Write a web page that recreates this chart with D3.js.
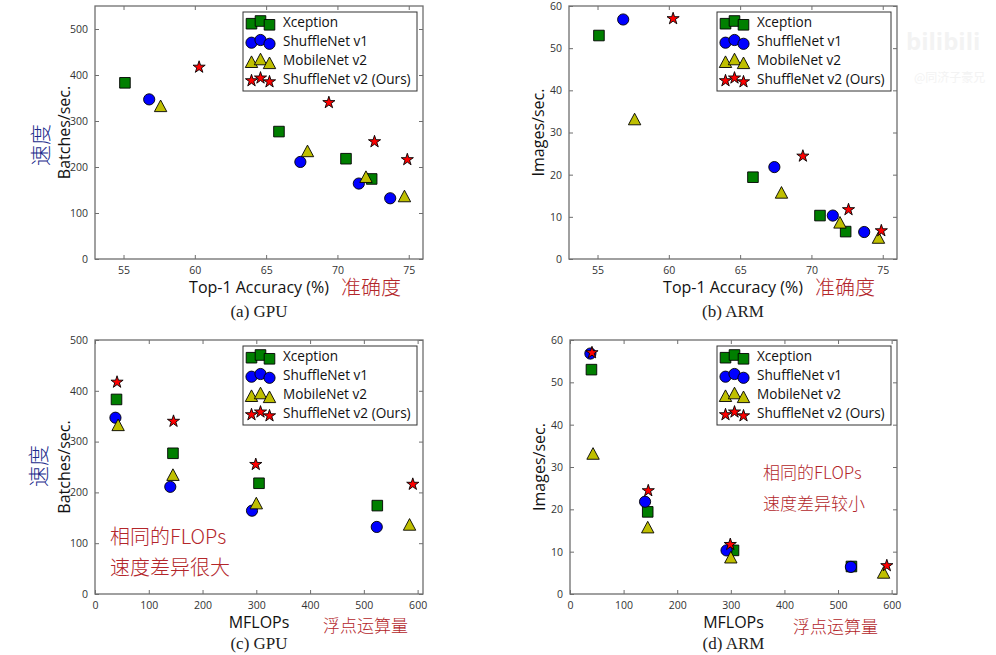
<!DOCTYPE html>
<html>
<head>
<meta charset="utf-8">
<script src="https://cdn.jsdelivr.net/npm/d3@7"></script>
<style>
  html, body { margin: 0; padding: 0; background: #fff; }
  svg { display: block; }
</style>
</head>
<body>
<svg id="chart" width="996" height="655"></svg>
<script>
// ---------------- DATA ----------------
const models = ["Xception", "ShuffleNet v1", "MobileNet v2", "ShuffleNet v2 (Ours)"];

// Top-1 accuracy (%)
const xceptionAcc  = [55.1, 65.9, 70.6, 72.4];
const shuffleV1Acc = [56.8, 67.4, 71.5, 73.7];
const mobileV2Acc  = [57.6, 67.9, 72.0, 74.7];
const shuffleV2Acc = [60.3, 69.4, 72.6, 74.9];

// MFLOPs
const xceptionFlops  = [40, 145, 305, 525];
const shuffleV1Flops = [38, 140, 292, 524];
const mobileV2Flops  = [43, 145, 300, 585];
const shuffleV2Flops = [41, 146, 299, 591];

// GPU speed (batches/sec.)
const xceptionGpu  = [383, 277, 218, 174];
const shuffleV1Gpu = [347, 211, 164, 132];
const mobileV2Gpu  = [333, 235, 179, 137];
const shuffleV2Gpu = [417, 340, 255, 216];

// ARM speed (images/sec.)
const xceptionArm  = [53.0, 19.4, 10.3, 6.5];
const shuffleV1Arm = [56.8, 21.8, 10.3, 6.4];
const mobileV2Arm  = [33.2, 15.8, 8.7, 5.1];
const shuffleV2Arm = [57.0, 24.4, 11.7, 6.7];

// axis ticks
const accTicks  = [55, 60, 65, 70, 75];
const flopTicks = [0, 100, 200, 300, 400, 500, 600];
const gpuTicks  = [0, 100, 200, 300, 400, 500];
const armTicks  = [0, 10, 20, 30, 40, 50, 60];

// ---------------- STYLE ----------------
const colors = ["#007f00", "#0000ff", "#bfbf00", "#ff0000"];
const shapes = ["square", "circle", "triangle", "star"];
const sansFont = "'Open Sans', 'DejaVu Sans', sans-serif";
const cjkFont = "'Noto Sans CJK SC', sans-serif";

const svg = d3.select("#chart");

function markerPath(shape) {
  const p = d3.path();
  if (shape === "square") {
    const s = 5.3; p.rect(-s, -s, 2 * s, 2 * s);
  } else if (shape === "circle") {
    p.arc(0, 0, 5.6, 0, 2 * Math.PI); p.closePath();
  } else if (shape === "triangle") {
    const w = 6.2, h = 5.8;
    p.moveTo(0, -h); p.lineTo(w, h); p.lineTo(-w, h); p.closePath();
  } else {
    return d3.symbol().type(d3.symbolStar).size(46)();
  }
  return p.toString();
}

function drawPanel(cfg) {
  const x = d3.scaleLinear().domain(cfg.xDomain).range([cfg.left, cfg.right]);
  const y = d3.scaleLinear().domain(cfg.yDomain).range([cfg.bottom, cfg.top]);
  const g = svg.append("g");

  // frame
  g.append("rect")
    .attr("x", cfg.left).attr("y", cfg.top)
    .attr("width", cfg.right - cfg.left).attr("height", cfg.bottom - cfg.top)
    .attr("fill", "none").attr("stroke", "#6e6e6e").attr("stroke-width", 1.3);

  // axes (inward ticks)
  const tickStyle = sel => {
    sel.select(".domain").remove();
    sel.selectAll(".tick line").attr("stroke", "#6e6e6e");
    sel.selectAll(".tick text").attr("fill", "#333").style("font-family", sansFont).style("font-size", "10.5px");
  };
  g.append("g").attr("transform", `translate(0,${cfg.bottom})`)
    .call(d3.axisBottom(x).tickValues(cfg.xTicks).tickSizeInner(-4).tickPadding(8))
    .call(tickStyle);
  g.append("g").attr("transform", `translate(0,${cfg.top})`)
    .call(d3.axisTop(x).tickValues(cfg.xTicks).tickSizeInner(-4).tickFormat(""))
    .call(tickStyle);
  g.append("g").attr("transform", `translate(${cfg.left},0)`)
    .call(d3.axisLeft(y).tickValues(cfg.yTicks).tickSizeInner(-4).tickPadding(7))
    .call(tickStyle);
  g.append("g").attr("transform", `translate(${cfg.right},0)`)
    .call(d3.axisRight(y).tickValues(cfg.yTicks).tickSizeInner(-4).tickFormat(""))
    .call(tickStyle);

  // points
  cfg.series.forEach((s, i) => {
    g.append("g").selectAll("path").data(s.xs.map((v, k) => [v, s.ys[k]]))
      .join("path")
      .attr("d", markerPath(shapes[i]))
      .attr("transform", d => `translate(${x(d[0])},${y(d[1])})`)
      .attr("fill", colors[i]).attr("stroke", "#000").attr("stroke-width", 0.9);
  });

  // legend
  const lw = 174, lh = 79;
  const lx = cfg.right - 6 - lw, ly = cfg.top + 6;
  const lg = g.append("g");
  lg.append("rect").attr("x", lx).attr("y", ly).attr("width", lw).attr("height", lh)
    .attr("fill", "#fff").attr("stroke", "#333").attr("stroke-width", 1);
  const offs = [[8.5, 1.2], [17.5, -1.5], [26.5, 2.3]];
  models.forEach((m, i) => {
    const cy = ly + 10.5 + i * 19;
    offs.forEach(o => {
      lg.append("path").attr("d", markerPath(shapes[i]))
        .attr("transform", `translate(${lx + o[0]},${cy + o[1]})`)
        .attr("fill", colors[i]).attr("stroke", "#000").attr("stroke-width", 0.9);
    });
    lg.append("text").attr("x", lx + 40).attr("y", cy + 4.8)
      .style("font-family", sansFont).style("font-size", "13.6px").attr("fill", "#111")
      .text(m);
  });

  // axis labels
  const cx = (cfg.left + cfg.right) / 2;
  g.append("text").attr("x", cx).attr("y", cfg.bottom + 34)
    .attr("text-anchor", "middle").style("font-family", sansFont).style("font-size", "16px")
    .attr("fill", "#111").text(cfg.xLabel);
  g.append("text").attr("transform", `translate(${cfg.left - 25},${(cfg.top + cfg.bottom) / 2}) rotate(-90)`)
    .attr("text-anchor", "middle").style("font-family", sansFont).style("font-size", "16px")
    .attr("fill", "#111").text(cfg.yLabel);
  g.append("text").attr("x", cx).attr("y", cfg.bottom + cfg.capOffset)
    .attr("text-anchor", "middle").style("font-family", "'Liberation Serif', 'DejaVu Serif', serif")
    .style("font-size", "17px").attr("fill", "#222").text(cfg.caption);
}

drawPanel({
  left: 95, right: 423, top: 6, bottom: 259, capOffset: 58,
  xDomain: [53, 76], yDomain: [0, 550], xTicks: accTicks, yTicks: gpuTicks,
  xLabel: "Top-1 Accuracy (%)", yLabel: "Batches/sec.", caption: "(a) GPU",
  series: [
    { xs: xceptionAcc, ys: xceptionGpu }, { xs: shuffleV1Acc, ys: shuffleV1Gpu },
    { xs: mobileV2Acc, ys: mobileV2Gpu }, { xs: shuffleV2Acc, ys: shuffleV2Gpu }
  ]
});
drawPanel({
  left: 569, right: 897, top: 6, bottom: 259, capOffset: 58,
  xDomain: [53, 76], yDomain: [0, 60], xTicks: accTicks, yTicks: armTicks,
  xLabel: "Top-1 Accuracy (%)", yLabel: "Images/sec.", caption: "(b) ARM",
  series: [
    { xs: xceptionAcc, ys: xceptionArm }, { xs: shuffleV1Acc, ys: shuffleV1Arm },
    { xs: mobileV2Acc, ys: mobileV2Arm }, { xs: shuffleV2Acc, ys: shuffleV2Arm }
  ]
});
drawPanel({
  left: 95, right: 423, top: 340, bottom: 594, capOffset: 55,
  xDomain: [0, 610], yDomain: [0, 500], xTicks: flopTicks, yTicks: gpuTicks,
  xLabel: "MFLOPs", yLabel: "Batches/sec.", caption: "(c) GPU",
  series: [
    { xs: xceptionFlops, ys: xceptionGpu }, { xs: shuffleV1Flops, ys: shuffleV1Gpu },
    { xs: mobileV2Flops, ys: mobileV2Gpu }, { xs: shuffleV2Flops, ys: shuffleV2Gpu }
  ]
});
drawPanel({
  left: 570, right: 897, top: 340, bottom: 594, capOffset: 55,
  xDomain: [0, 610], yDomain: [0, 60], xTicks: flopTicks, yTicks: armTicks,
  xLabel: "MFLOPs", yLabel: "Images/sec.", caption: "(d) ARM",
  series: [
    { xs: xceptionFlops, ys: xceptionArm }, { xs: shuffleV1Flops, ys: shuffleV1Arm },
    { xs: mobileV2Flops, ys: mobileV2Arm }, { xs: shuffleV2Flops, ys: shuffleV2Arm }
  ]
});

// ---------------- handwritten annotations ----------------
const red = "#b3262a", navy = "#1c2c8c";
function note(txt, x, y, size, color, rot) {
  return svg.append("text")
    .attr("transform", `translate(${x},${y})` + (rot ? ` rotate(${rot})` : ""))
    .attr("text-anchor", rot ? "middle" : "start")
    .style("font-family", cjkFont).style("font-size", size + "px")
    .style("font-weight", 300).attr("fill", color).text(txt);
}
note("准确度", 341, 295, 20, red);
note("准确度", 815, 295, 20, red);
note("速度", 48, 145, 21, navy, -90);
note("速度", 46, 466, 21, navy, -90);
note("浮点运算量", 323, 632, 17, red);
note("浮点运算量", 793, 633, 17, red);
note("相同的FLOPs", 110, 544, 20, red);
note("速度差异很大", 110, 575, 20, red);
note("相同的FLOPs", 763, 479, 17, red);
note("速度差异较小", 763, 510, 17, red);

// faint watermark
svg.append("text").attr("x", 906).attr("y", 50)
  .style("font-family", sansFont).style("font-size", "24px").style("font-weight", 700)
  .attr("fill", "#f3f3f3").text("bilibili");
svg.append("text").attr("x", 914).attr("y", 82)
  .style("font-family", cjkFont).style("font-size", "12px")
  .attr("fill", "#f3f3f3").text("@同济子豪兄");
</script>
</body>
</html>
